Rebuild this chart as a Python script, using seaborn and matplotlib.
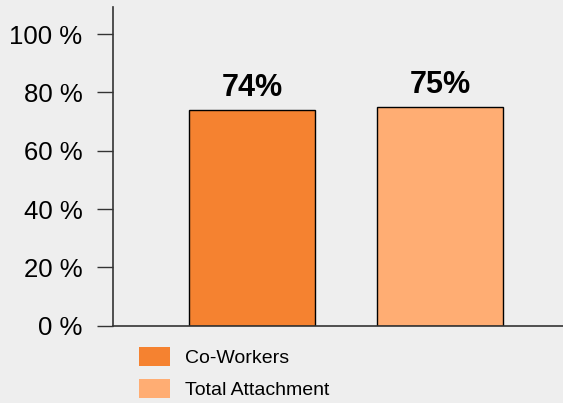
import matplotlib
matplotlib.use('Agg')
import matplotlib.pyplot as plt
import seaborn as sns
import pandas as pd
from matplotlib.patches import Patch

categories = ['Co-Workers', 'Total Attachment']
values = [74, 75]
colors = ['#F58230', '#FFAD73']
y_ticks = [0, 20, 40, 60, 80, 100]
y_tick_labels = ['0 %', '20 %', '40 %', '60 %', '80 %', '100 %']

sns.set_style('white')
plt.rcParams['font.family'] = ['Liberation Sans', 'DejaVu Sans']
plt.rcParams['text.color'] = 'black'
plt.rcParams['ytick.labelcolor'] = 'black'

df = pd.DataFrame({'category': categories, 'value': values})

fig = plt.figure(figsize=(5.63, 4.03), dpi=100)
fig.patch.set_facecolor('#EEEEEE')
ax = fig.add_axes([0.2007, 0.1918, 0.7993, 0.7908])
ax.set_facecolor('#EEEEEE')

sns.barplot(data=df, x='category', y='value', hue='category', palette=colors,
            saturation=1, width=0.668, edgecolor='black', linewidth=1.0,
            legend=False, ax=ax)

for c in ax.containers:
    ax.bar_label(c, fmt='{:.0f}%', padding=5, fontsize=22, fontweight='bold',
                 color='black')

ax.set_ylim(0, 109.3)
ax.set_xlim(-0.737, 1.65)
ax.set_yticks(y_ticks)
ax.set_yticklabels(y_tick_labels, fontsize=18.5, color='black')
ax.set_xticks([])
ax.set_xlabel('')
ax.set_ylabel('')
ax.tick_params(axis='y', direction='out', length=11.5, width=1.0, color='#333333',
               pad=10.5, left=True)

for s in ['top', 'right']:
    ax.spines[s].set_visible(False)
for s in ['left', 'bottom']:
    ax.spines[s].set_color('#333333')
    ax.spines[s].set_linewidth(1.2)

handles = [Patch(facecolor=col, edgecolor='none', label=cat) for cat, col in zip(categories, colors)]
leg = fig.legend(handles=handles, loc='upper left', bbox_to_anchor=(139 / 563, 1 - 347 / 403),
                 frameon=False, fontsize=14, handlelength=1.6, handleheight=1.13,
                 handletextpad=0.77, labelspacing=0.6, borderpad=0, borderaxespad=0)
for t in leg.get_texts():
    t.set_color('black')

fig.savefig('out.png', dpi=100, facecolor=fig.get_facecolor())
